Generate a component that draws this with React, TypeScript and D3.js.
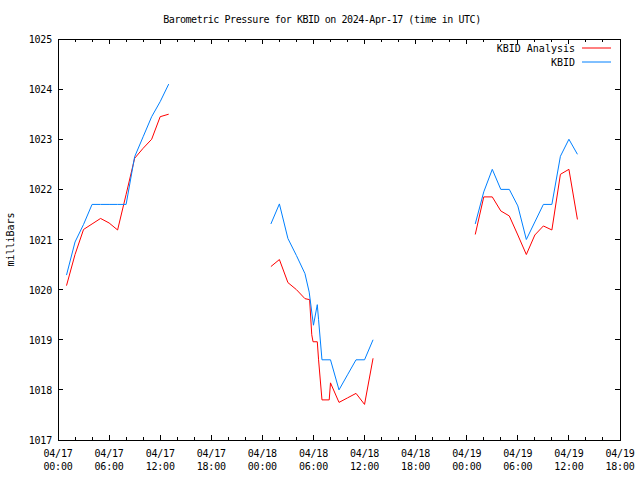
import React from "react";
import * as d3 from "d3";

const TITLE = "Barometric Pressure for KBID on 2024-Apr-17 (time in UTC)";
const Y_LABEL = "milliBars";
const SERIES_NAMES = ["KBID Analysis", "KBID"];
const SERIES_COLORS = ["#ff0000", "#0080ff"];

// hours since 04/17 00:00 UTC; null value = gap
const analysisTimes = [1, 2, 3, 4, 5, 6, 7, 8, 9, 10, 11, 12, 13, 20,
  25, 26, 27, 28, 29, 29.55, 29.8, 29.95, 30.45, 30.6, 31, 31.85, 32, 33, 34, 35, 36, 37, 44,
  49, 50, 51, 52, 53, 54, 55, 56, 57, 58, 59, 60, 61];
const analysisValues = [1020.08, 1020.7, 1021.2, 1021.31, 1021.42, 1021.33, 1021.19, 1021.9, 1022.62, 1022.82, 1023.0, 1023.45, 1023.5, null,
  1020.46, 1020.6, 1020.14, 1020.0, 1019.82, 1019.8, 1019.1, 1018.96, 1018.96, 1018.6, 1017.8, 1017.8, 1018.14, 1017.75, 1017.84, 1017.93, 1017.71, 1018.63, null,
  1021.1, 1021.85, 1021.85, 1021.57, 1021.47, 1021.09, 1020.7, 1021.09, 1021.27, 1021.19, 1022.3, 1022.4, 1021.4];

const obsTimes = [1, 2, 3, 4, 5, 6, 7, 8, 9, 10, 11, 12, 13, 20,
  25, 26, 27, 28, 29, 29.5, 30, 30.45, 30.6, 31, 32, 33, 34, 35, 36, 37, 44,
  49, 50, 51, 52, 53, 54, 55, 56, 57, 58, 59, 60, 61];
const obsValues = [1020.29, 1020.95, 1021.3, 1021.7, 1021.7, 1021.7, 1021.7, 1021.7, 1022.65, 1023.05, 1023.45, 1023.75, 1024.1, null,
  1021.31, 1021.71, 1021.02, 1020.68, 1020.32, 1019.95, 1019.29, 1019.7, 1019.4, 1018.6, 1018.6, 1018.0, 1018.3, 1018.6, 1018.6, 1019.0, null,
  1021.31, 1021.95, 1022.4, 1022.0, 1022.0, 1021.67, 1021.0, 1021.35, 1021.7, 1021.7, 1022.66, 1023.0, 1022.7];

const xTickHours = [0, 6, 12, 18, 24, 30, 36, 42, 48, 54, 60, 66];
const xTickDates = ["04/17", "04/17", "04/17", "04/17", "04/18", "04/18", "04/18", "04/18", "04/19", "04/19", "04/19", "04/19"];
const xTickTimes = ["00:00", "06:00", "12:00", "18:00", "00:00", "06:00", "12:00", "18:00", "00:00", "06:00", "12:00", "18:00"];
const yTicks = [1017, 1018, 1019, 1020, 1021, 1022, 1023, 1024, 1025];

const W = 640, H = 480;
const M = { left: 58, right: 620, top: 39, bottom: 440 };
const FONT = "'DejaVu Sans Mono', monospace";

export default function App() {
  const x = d3.scaleLinear().domain([0, 66]).range([M.left, M.right]);
  const y = d3.scaleLinear().domain([1017, 1025]).range([M.bottom, M.top]);
  const mk = (t: number[], v: (number | null)[]) => t.map((tt, i) => ({ t: tt, v: v[i] }));
  const line = d3.line<{ t: number; v: number | null }>()
    .defined(d => d.v != null)
    .x(d => x(d.t))
    .y(d => y(d.v as number));
  const minorHours = d3.range(0, 67, 2).filter(h => h % 6 !== 0);
  const titleStyle = { fontFamily: FONT, fontSize: 10, letterSpacing: -0.45 } as React.CSSProperties;
  const tickStyle = { fontFamily: FONT, fontSize: 10, letterSpacing: -0.2 } as React.CSSProperties;
  const legendStyle = { fontFamily: FONT, fontSize: 10, letterSpacing: 0 } as React.CSSProperties;

  return (
    <svg width={W} height={H} style={{ display: "block", position: "absolute", left: 0, top: 0, background: "#fff" }}>
      <rect width={W} height={H} fill="#fff" />
      <text x={322} y={23} textAnchor="middle" style={titleStyle} fill="#000">{TITLE}</text>
      <text transform={`translate(14,${(M.top + M.bottom) / 2}) rotate(-90)`} textAnchor="middle" style={legendStyle} fill="#000">{Y_LABEL}</text>
      <g stroke="#000" strokeWidth={1} shapeRendering="crispEdges">
        {xTickHours.map(h => (
          <g key={"M" + h}>
            <line x1={x(h)} x2={x(h)} y1={M.bottom} y2={M.bottom - 5} />
            <line x1={x(h)} x2={x(h)} y1={M.top} y2={M.top + 5} />
          </g>
        ))}
        {minorHours.map(h => (
          <g key={"m" + h}>
            <line x1={x(h)} x2={x(h)} y1={M.bottom} y2={M.bottom - 3} />
            <line x1={x(h)} x2={x(h)} y1={M.top} y2={M.top + 3} />
          </g>
        ))}
        {yTicks.map(v => (
          <g key={"y" + v}>
            <line x1={M.left} x2={M.left + 5} y1={y(v)} y2={y(v)} />
            <line x1={M.right} x2={M.right - 5} y1={y(v)} y2={y(v)} />
          </g>
        ))}
        <rect x={M.left} y={M.top} width={M.right - M.left} height={M.bottom - M.top} fill="none" />
      </g>
      {yTicks.map(v => (
        <text key={"yl" + v} x={M.left - 6} y={y(v) + 4} textAnchor="end" style={tickStyle} fill="#000">{v}</text>
      ))}
      {xTickHours.map((h, i) => (
        <g key={"xl" + h}>
          <text x={x(h)} y={457} textAnchor="middle" style={tickStyle} fill="#000">{xTickDates[i]}</text>
          <text x={x(h)} y={470} textAnchor="middle" style={tickStyle} fill="#000">{xTickTimes[i]}</text>
        </g>
      ))}
      <path d={line(mk(analysisTimes, analysisValues)) || ""} fill="none" stroke={SERIES_COLORS[0]} strokeWidth={1} />
      <path d={line(mk(obsTimes, obsValues)) || ""} fill="none" stroke={SERIES_COLORS[1]} strokeWidth={1} />
      {SERIES_NAMES.map((n, i) => (
        <g key={n}>
          <text x={575} y={52 + i * 14} textAnchor="end" style={legendStyle} fill="#000">{n}</text>
          <line x1={582} x2={611} y1={48 + i * 14} y2={48 + i * 14} stroke={SERIES_COLORS[i]} strokeWidth={1} />
        </g>
      ))}
    </svg>
  );
}
